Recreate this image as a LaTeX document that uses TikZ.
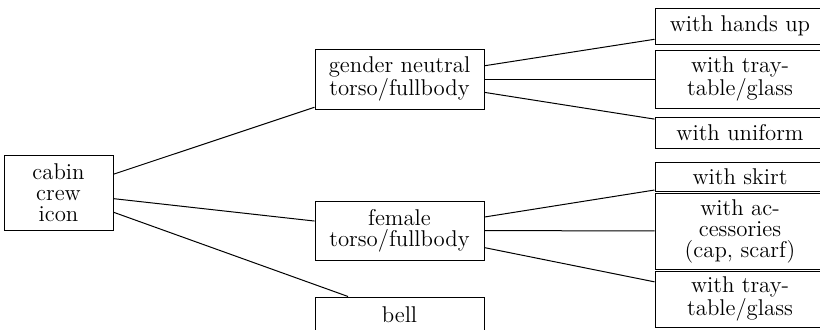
\documentclass[tikz,border=0pt]{standalone}
\begin{document}
\begin{tikzpicture}[x=0.5pt,y=-0.5pt,
  box/.style={draw, line width=0.5pt, rectangle, align=center, inner sep=0pt,
    font=\fontsize{11.4}{10.5}\selectfont},
  mid/.style={box, minimum width=84.5pt},
  leaf/.style={box, minimum width=85pt},
  link/.style={line width=0.5pt}]
\useasboundingbox (0,0) rectangle (820,329);
\clip (0,0) rectangle (820,329);
\node[box, minimum width=54.5pt, minimum height=37.5pt] (root) at (58.5,192.5) {cabin\\crew\\icon};
\node[mid, minimum height=30pt] (gn) at (399.5,79) {gender neutral\\torso/fullbody};
\node[mid, minimum height=29.5pt] (fem) at (399.5,230.5) {female\\torso/fullbody};
\node[mid, minimum height=18pt] (bell) at (399.5,315) {bell};
\node[leaf, minimum height=18pt] (hands) at (740,26) {with hands up};
\node[leaf, minimum height=29pt] (trayA) at (740,79) {with tray-\\table/glass};
\node[leaf, minimum height=15.5pt] (unif) at (740,132.5) {with uniform};
\node[leaf, minimum height=14.5pt] (skirt) at (740,176.5) {with skirt};
\node[leaf, minimum height=38pt] (acc) at (740,231) {with ac-\\cessories\\(cap, scarf)};
\node[leaf, minimum height=28pt] (trayB) at (740,299) {with tray-\\table/glass};
\draw[link] (root) -- (gn);
\draw[link] (root) -- (fem);
\draw[link] (root) -- (bell);
\draw[link] (gn) -- (hands);
\draw[link] (gn) -- (trayA);
\draw[link] (gn) -- (unif);
\draw[link] (fem) -- (skirt);
\draw[link] (fem) -- (acc);
\draw[link] (fem) -- (trayB);
\end{tikzpicture}
\end{document}
